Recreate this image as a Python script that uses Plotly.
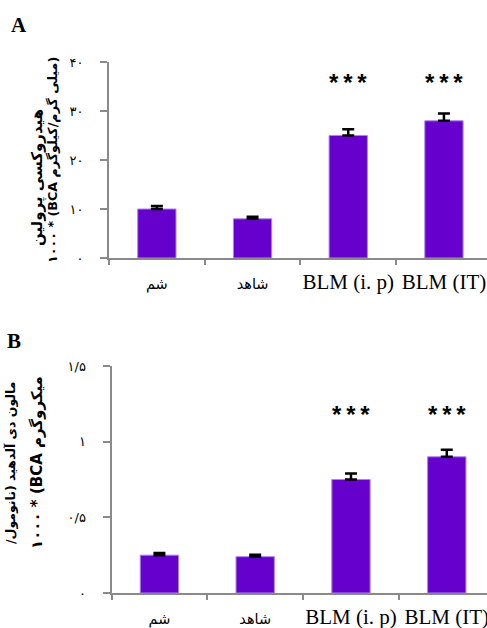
import plotly.graph_objects as go

# ---------------- data ----------------
categories = ["شم", "شاهد", "BLM (i. p)", "BLM (IT)"]
hyp_values = [10.0, 8.0, 25.0, 28.0]
hyp_errors = [0.6, 0.4, 1.3, 1.5]
mda_values = [0.25, 0.24, 0.75, 0.90]
mda_errors = [0.015, 0.012, 0.04, 0.047]
sig_labels = ["", "", "*\u2009*\u2009*", "*\u2009*\u2009*"]
hyp_tickvals = [0, 10, 20, 30, 40]
hyp_ticktext = ["۰", "۱۰", "۲۰", "۳۰", "۴۰"]
mda_tickvals = [0, 0.5, 1, 1.5]
mda_ticktext = ["۰", "۰/۵", "۱", "۱/۵"]
title_a = ["هیدروکسی پرولین", "۱۰۰۰ * (BCA میلی گرم/کیلوگرم)"]
title_b = ["/مالون دی آلدهید (نانومول", "۱۰۰۰ * (BCA میکروگرم"]

W, H = 487, 628
BAR = "#6600CC"
AX = "#8a8a8a"
PERSIAN_FONT = "DejaVu Sans"


def is_persian(s):
    return any("\u0600" <= ch <= "\u06ff" for ch in s)


def fmt_cat(c):
    if is_persian(c):
        return f'<span style="font-family:{PERSIAN_FONT};font-size:14.5px">{c}</span>'
    return c


cat_ticktext = [fmt_cat(c) for c in categories]

fig = go.Figure()

for vals, errs, xa, ya in [(hyp_values, hyp_errors, "x", "y"),
                           (mda_values, mda_errors, "x2", "y2")]:
    fig.add_trace(go.Bar(
        x=categories, y=vals, width=0.4, xaxis=xa, yaxis=ya,
        marker=dict(color=BAR, line=dict(color="#a985e6", width=1)),
        error_y=dict(type="data", array=errs, arrayminus=[0] * len(errs),
                     symmetric=False, color="black", thickness=2.5, width=6),
        showlegend=False,
    ))


def px(x):
    return x / W


def py(y):
    return 1 - y / H


xcommon = dict(type="category", categoryorder="array", categoryarray=categories,
               showline=True, linecolor=AX, linewidth=2, ticks="outside",
               tickson="boundaries", ticklen=5, tickcolor=AX, tickwidth=2,
               tickmode="array", tickvals=categories, ticktext=cat_ticktext,
               tickangle=0, ticklabelstandoff=4,
               tickfont=dict(family="Liberation Serif", size=21, color="black"),
               showgrid=False, zeroline=False, automargin=False, fixedrange=True)
ycommon = dict(showline=True, linecolor=AX, linewidth=2, ticks="outside",
               ticklen=7, tickcolor=AX, tickwidth=2, tickmode="array",
               tickfont=dict(family=PERSIAN_FONT, size=13, color="black"),
               ticklabelstandoff=14, showgrid=False, zeroline=False,
               automargin=False, fixedrange=True)

fig.update_layout(
    width=W, height=H, margin=dict(l=0, r=0, t=0, b=0),
    plot_bgcolor="white", paper_bgcolor="white", showlegend=False,
    xaxis=dict(domain=[px(109), 1], range=[-0.5, 3.45], anchor="y", **xcommon),
    yaxis=dict(domain=[py(258), py(62)], range=[0, 40], anchor="x",
               tickvals=hyp_tickvals, ticktext=hyp_ticktext, **ycommon),
    xaxis2=dict(domain=[px(111.5), 1], range=[-0.5, 3.42], anchor="y2", **xcommon),
    yaxis2=dict(domain=[py(593), py(366)], range=[0, 1.5], anchor="x2",
                tickvals=mda_tickvals, ticktext=mda_ticktext, **ycommon),
)

ann = []
star_font = dict(family="Liberation Sans", size=24, color="black")
# significance stars
for c, s in zip(categories, sig_labels):
    if s:
        ann.append(dict(x=c, y=35.8, xref="x", yref="y", text=f"<b>{s}</b>",
                        showarrow=False, font=star_font,
                        xanchor="center", yanchor="middle"))
        ann.append(dict(x=c, y=1.18, xref="x2", yref="y2", text=f"<b>{s}</b>",
                        showarrow=False, font=star_font,
                        xanchor="center", yanchor="middle"))
# panel letters
for letter, (lx, ly) in [("A", (19, 25)), ("B", (14, 341))]:
    ann.append(dict(x=px(lx), y=py(ly), xref="paper", yref="paper",
                    text=f"<b>{letter}</b>", showarrow=False,
                    font=dict(family="Liberation Serif", size=21, color="black"),
                    xanchor="center", yanchor="middle"))
# y-axis titles (rotated)
for txt, (tx, ty), size in [(title_a[0], (37, 178), 15), (title_a[1], (53, 160), 12.7),
                            (title_b[0], (10, 463), 12.5), (title_b[1], (37, 463), 15)]:
    ann.append(dict(x=px(tx), y=py(ty), xref="paper", yref="paper",
                    text=f"<b>{txt}</b>", showarrow=False, textangle=-90,
                    font=dict(family=PERSIAN_FONT, size=size, color="black"),
                    xanchor="center", yanchor="middle"))

fig.update_layout(annotations=ann)
fig.write_html("out.html", config={"displayModeBar": False},
               post_script="document.body.style.margin='0';")
